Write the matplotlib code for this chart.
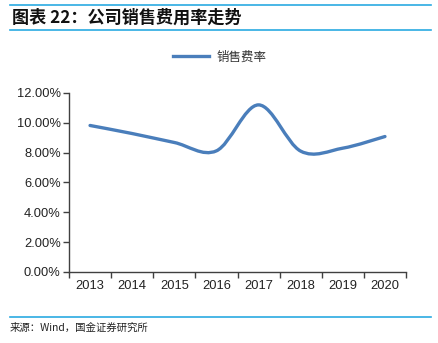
import matplotlib
matplotlib.use("Agg")
import matplotlib.pyplot as plt
from matplotlib.path import Path
from matplotlib.patches import PathPatch
from matplotlib.lines import Line2D
from matplotlib.ticker import FuncFormatter, FixedLocator

plt.rcParams['font.family'] = ['Noto Sans CJK SC', 'DejaVu Sans']

years = ['2013', '2014', '2015', '2016', '2017', '2018', '2019', '2020']
sales_rate = [0.0982, 0.0928, 0.0868, 0.0812, 0.1120, 0.0810, 0.0830, 0.0908]

blue = '#4A7EBB'
cyan = '#2AAAE2'
axis_col = '#404040'

fig = plt.figure(figsize=(4.38, 3.43), dpi=100)
ax = fig.add_axes([0.1575, 0.207, 0.7695, 0.522])

# smoothed line (Catmull-Rom style bezier segments, like a spreadsheet "smooth line")
xs = list(range(1, len(years) + 1))
pts = list(zip(xs, sales_rate))
verts = [pts[0]]
codes = [Path.MOVETO]
for i in range(len(pts) - 1):
    p0 = pts[i - 1] if i > 0 else pts[i]
    p1 = pts[i]
    p2 = pts[i + 1]
    p3 = pts[i + 2] if i + 2 < len(pts) else pts[i + 1]
    c1 = (p1[0] + (p2[0] - p0[0]) / 6, p1[1] + (p2[1] - p0[1]) / 6)
    c2 = (p2[0] - (p3[0] - p1[0]) / 6, p2[1] - (p3[1] - p1[1]) / 6)
    verts += [c1, c2, p2]
    codes += [Path.CURVE4] * 3
ax.add_patch(PathPatch(Path(verts, codes), facecolor='none', edgecolor=blue,
                       lw=2.4, capstyle='round', joinstyle='round'))

ax.set_xlim(0.5, len(years) + 0.5)
ax.set_ylim(0, 0.12)
ax.set_yticks([0, 0.02, 0.04, 0.06, 0.08, 0.10, 0.12])
ax.yaxis.set_major_formatter(FuncFormatter(lambda v, p: '%.2f%%' % (v * 100)))
ax.xaxis.set_major_locator(FixedLocator([x + 0.5 for x in range(0, len(years) + 1)]))
ax.xaxis.set_major_formatter(FuncFormatter(lambda v, p: ''))
ax.xaxis.set_minor_locator(FixedLocator(xs))
ax.set_xticklabels(years, minor=True)
ax.tick_params(axis='x', which='minor', length=0, pad=6)
ax.tick_params(axis='x', which='major', length=4, width=1, color=axis_col, direction='out')
ax.tick_params(axis='y', length=4, width=1, color=axis_col, direction='out', pad=2)
for lab in ax.get_yticklabels() + ax.get_xticklabels(minor=True):
    lab.set_fontfamily('Liberation Sans')
    lab.set_fontsize(9.3)
    lab.set_color('#222222')

for s in ['top', 'right']:
    ax.spines[s].set_visible(False)
for s in ['left', 'bottom']:
    ax.spines[s].set_color(axis_col)
    ax.spines[s].set_linewidth(1)

# legend
leg = ax.legend([Line2D([], [], color=blue, lw=2.4)], ['销售费率'],
                loc='center', frameon=False, fontsize=9, handlelength=2.9,
                handletextpad=0.6)
leg.set_bbox_to_anchor((220 / 438, 1 - 57 / 343), transform=fig.transFigure)
for t in leg.get_texts():
    t.set_color('#333333')

# header and footer
fig.add_artist(Line2D([10 / 438, 431 / 438], [1 - 4.5 / 343] * 2, color=cyan, lw=1.2))
fig.add_artist(Line2D([10 / 438, 431 / 438], [1 - 30 / 343] * 2, color=cyan, lw=1.2))
fig.add_artist(Line2D([10 / 438, 431 / 438], [1 - 316.5 / 343] * 2, color=cyan, lw=1.2))
fig.text(12 / 438, 1 - 17.5 / 343, '图表 22：公司销售费用率走势', fontsize=12.3,
         fontweight='bold', fontstyle='italic', va='center', ha='left', color='#111111')
fig.text(10 / 438, 1 - 328 / 343, '来源：Wind，国金证券研究所', fontsize=7.5,
         va='center', ha='left', color='#222222')

fig.savefig('out.png', dpi=100)
